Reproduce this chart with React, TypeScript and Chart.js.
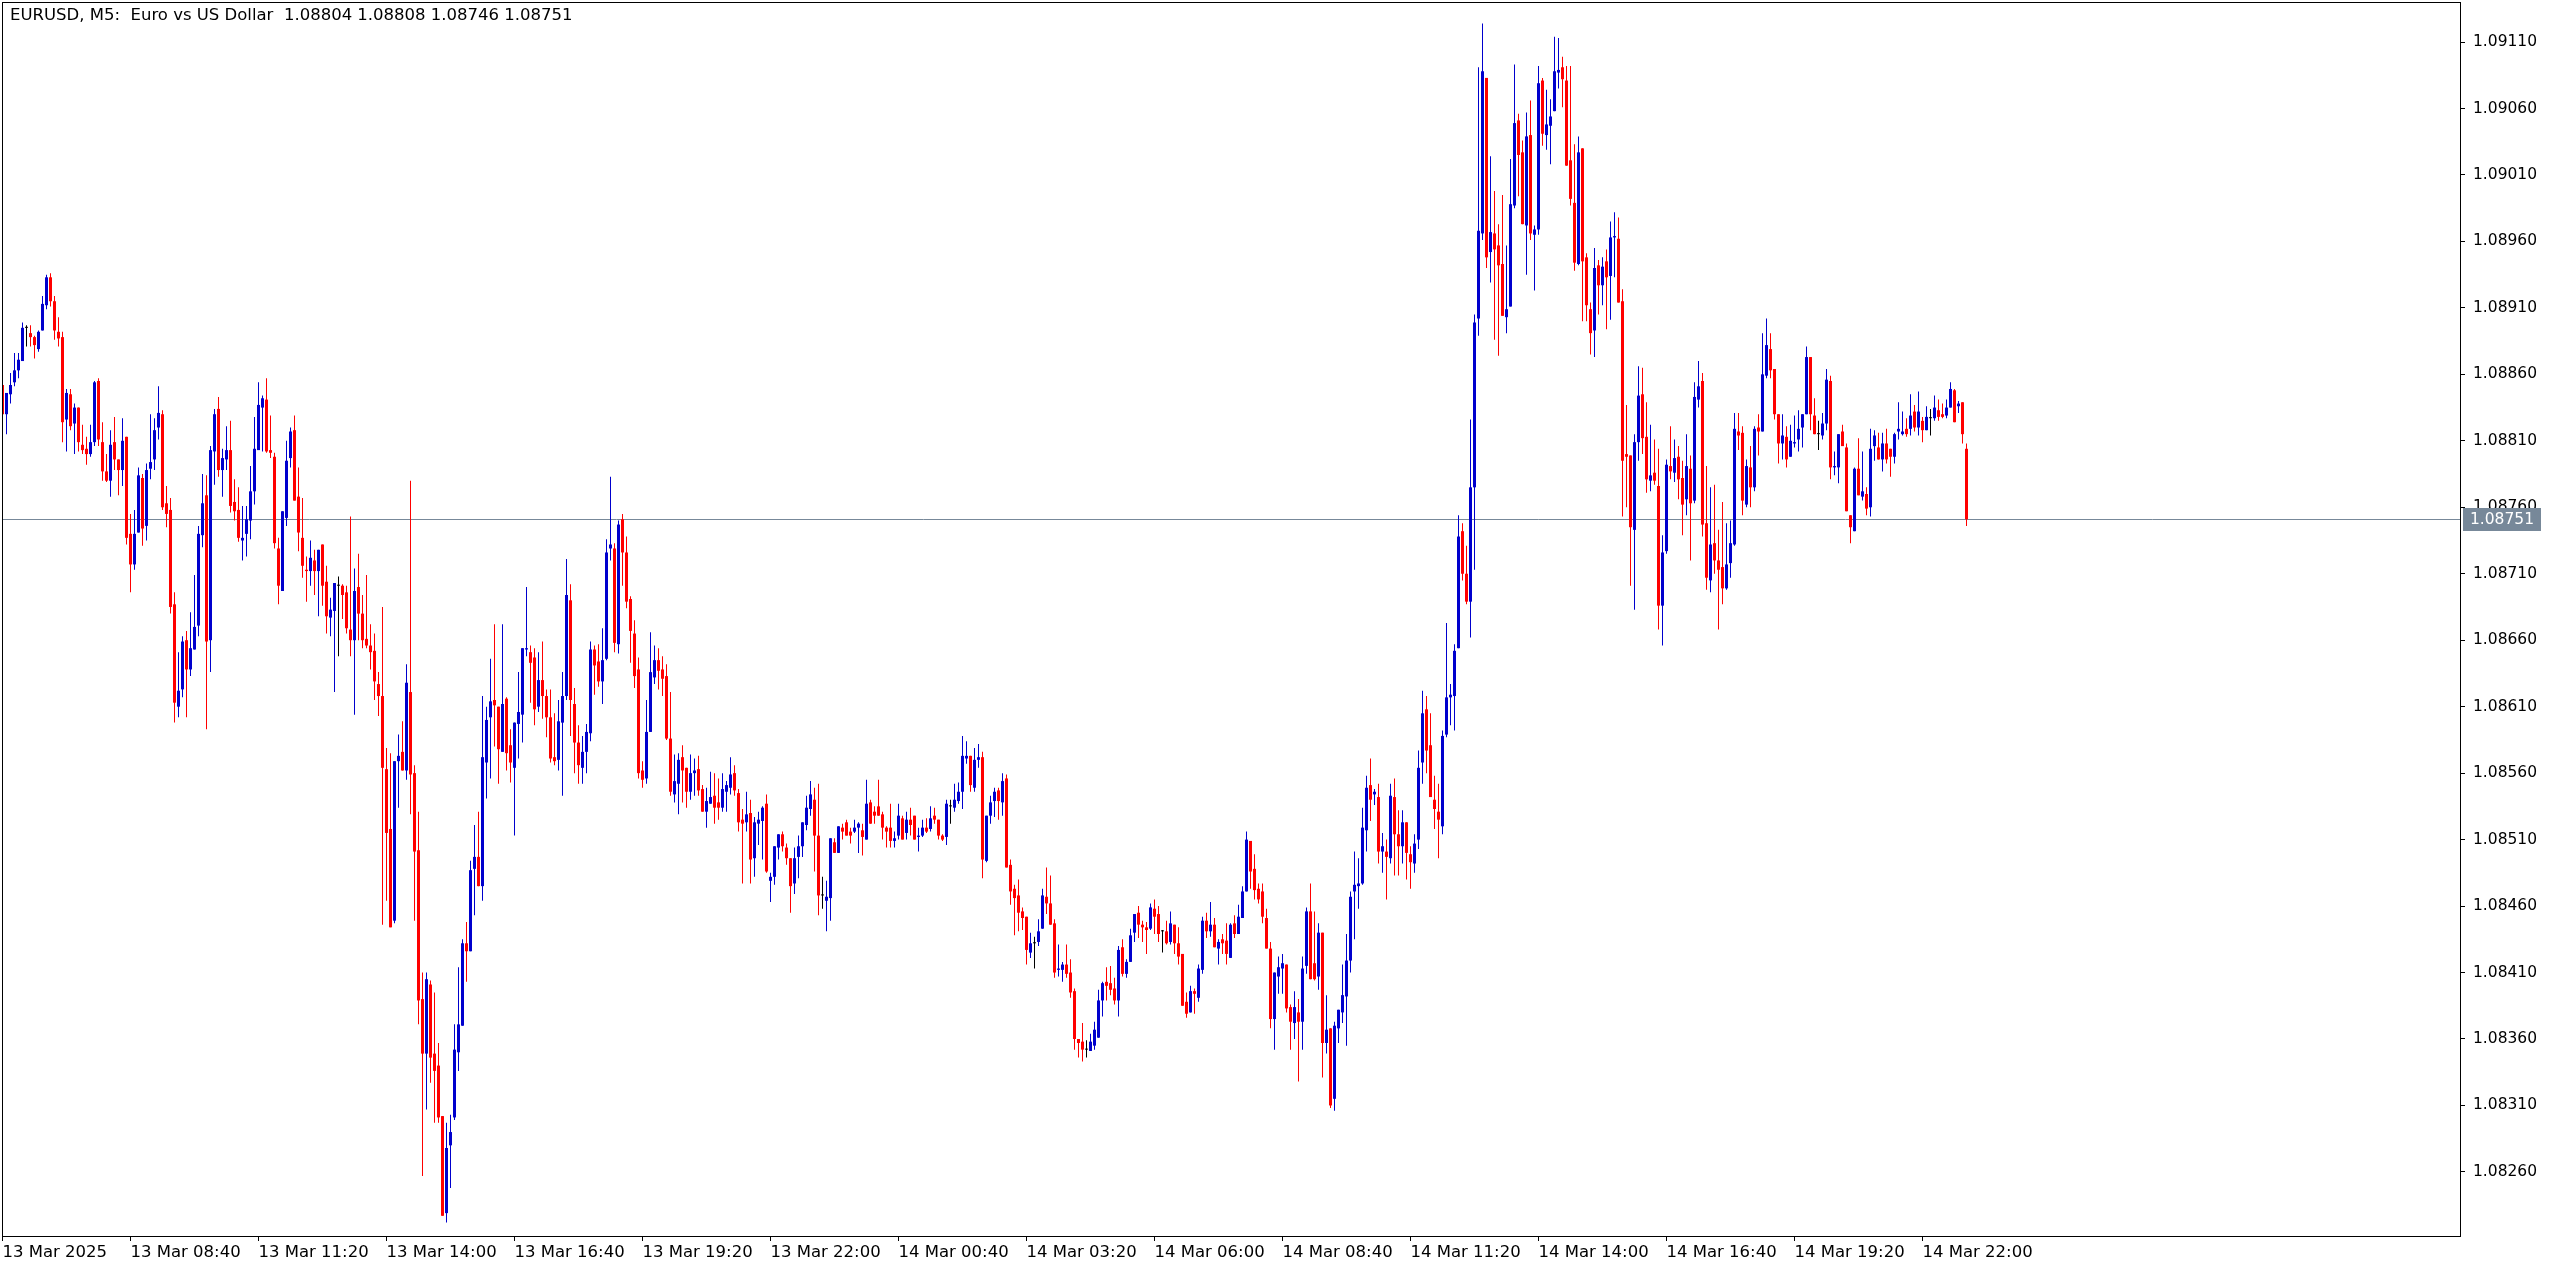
import React, { useEffect, useRef } from "react";
import { Chart, registerables } from "chart.js";

Chart.register(...registerables);

// Prices are stored in points (0.00001) above BASE_PRICE.
const BASE_PRICE = 1.08;
const POINT = 0.00001;

const openPts = [
  852,830,845,854,863,870,895,891,888,879,
  893,912,933,915,892,888,826,845,823,835,
  807,804,800,809,855,809,787,780,809,796,
  788,813,740,717,741,782,746,789,796,820,
  830,763,758,687,610,623,660,638,653,671,
  739,769,660,802,834,788,796,803,764,758,
  735,740,750,772,803,835,841,803,798,729,
  697,752,797,818,768,737,713,712,720,712,
  732,704,677,682,701,701,696,668,660,700,
  680,661,656,652,627,618,563,518,449,569,
  576,562,621,560,502,390,349,401,349,340,
  302,229,280,301,350,370,432,426,488,497,
  475,568,602,615,610,576,616,581,564,597,
  604,653,651,647,610,630,618,602,572,570,
  598,618,690,612,583,564,576,590,653,644,
  629,646,729,729,657,751,726,691,665,638,
  562,556,591,632,645,638,633,586,544,552,
  572,564,546,560,563,548,531,537,543,538,
  534,546,549,560,545,525,523,530,496,522,
  524,537,479,482,504,514,504,496,477,497,
  505,521,533,540,513,468,464,466,508,500,
  519,523,516,516,519,517,510,538,531,535,
  529,519,519,509,513,526,515,525,528,512,
  513,519,518,528,525,513,512,535,534,539,
  546,571,573,549,570,572,494,528,539,547,
  538,556,491,473,468,456,452,425,432,433,
  443,467,462,447,412,412,416,410,396,360,
  358,352,351,355,361,389,403,402,398,389,
  429,409,418,440,455,446,444,443,458,454,
  441,441,433,446,432,424,388,380,396,391,
  412,449,441,446,428,435,434,421,447,439,
  451,471,509,488,473,471,451,428,375,407,
  413,416,384,372,380,373,415,456,417,407,
  440,357,368,315,368,380,392,419,471,475,
  477,517,551,544,542,501,501,496,542,514,
  505,523,499,492,510,568,608,581,540,531,
  520,589,617,618,654,742,710,689,775,902,
  966,1083,952,966,957,943,903,911,987,1051,
  1027,972,1040,965,969,1081,1040,1047,1058,1087,
  1091,1081,1021,989,943,1030,948,909,893,942,
  927,945,934,963,962,915,800,799,743,809,
  845,813,780,786,776,686,727,791,786,798,
  782,766,789,765,841,855,748,705,733,720,
  715,699,718,732,817,816,762,790,775,820,
  817,859,879,864,830,808,813,798,808,811,
  820,830,873,829,815,814,823,855,790,790,
  817,805,754,742,789,768,770,760,806,805,
  796,808,804,798,817,815,819,819,832,820,
  825,818,827,827,833,830,829,835,848,836,
  839,804,
];

const highPts = [
  852,846,861,876,876,899,897,897,889,893,
  919,935,936,919,903,892,849,849,838,835,
  822,813,822,855,857,824,800,818,828,796,
  827,813,755,758,790,785,793,830,827,851,
  833,776,767,696,651,663,667,681,709,746,
  785,784,806,834,843,804,821,825,781,775,
  761,761,791,828,854,844,857,829,801,737,
  757,810,820,829,790,767,723,735,728,728,
  732,716,692,703,708,702,701,753,714,725,
  694,709,672,665,636,685,579,575,569,589,
  599,642,780,566,531,410,410,404,395,357,
  302,297,303,371,414,435,448,494,521,531,
  618,610,646,672,610,672,617,593,598,636,
  654,700,656,654,651,659,623,623,605,615,
  636,721,702,624,596,588,597,659,656,657,
  669,736,783,733,750,755,738,693,675,647,
  569,615,666,656,654,648,642,621,574,575,
  581,564,574,571,573,551,549,561,560,556,
  560,554,572,566,548,533,546,540,527,531,
  535,544,485,505,514,516,507,496,504,513,
  523,543,554,549,552,482,479,511,511,520,
  522,525,519,525,523,522,555,540,535,555,
  531,520,537,516,537,528,531,534,528,519,
  525,526,535,534,525,514,540,540,552,553,
  588,584,573,579,582,576,528,543,549,549,
  560,559,495,476,480,459,452,440,437,450,
  473,489,483,450,431,418,431,420,398,360,
  372,359,364,373,397,403,414,415,406,430,
  435,420,443,454,460,449,448,462,465,460,
  442,449,456,446,444,424,395,400,398,416,
  452,455,463,451,435,439,447,447,453,461,
  475,516,509,499,477,477,458,433,410,422,
  424,416,386,396,390,422,459,477,456,447,
  440,393,368,373,382,416,439,471,501,496,
  534,558,571,548,552,515,510,552,556,532,
  532,523,505,514,577,622,618,605,558,552,
  592,673,627,657,754,748,731,826,905,1091,
  1124,1083,1024,998,973,995,957,1022,1093,1056,
  1036,1057,1066,972,1092,1083,1074,1067,1114,1113,
  1099,1092,1092,1033,1039,1030,951,914,955,946,
  948,954,975,982,978,924,837,799,815,866,
  865,839,822,811,804,739,796,821,811,806,
  795,815,799,854,870,861,791,775,777,743,
  764,748,750,831,831,821,796,806,821,830,
  891,902,891,864,830,830,821,822,829,833,
  830,881,873,842,825,831,864,859,802,815,
  822,808,754,790,812,802,775,819,818,816,
  816,819,804,816,839,832,827,845,837,847,
  828,836,834,844,841,838,841,854,849,840,
  839,808,
];

const lowPts = [
  828,815,838,851,857,870,881,881,872,877,
  893,909,911,886,881,809,802,818,800,802,
  800,792,798,806,806,780,779,768,788,769,
  776,732,696,713,741,731,735,781,788,811,
  758,745,680,598,602,617,602,633,653,663,
  730,593,636,777,783,768,788,756,750,734,
  720,723,736,762,803,802,801,797,729,687,
  697,746,790,765,727,707,689,701,694,678,
  686,665,663,621,648,676,665,648,604,660,
  654,654,638,615,603,446,464,444,447,534,
  562,555,529,449,371,257,307,327,297,297,
  227,222,248,299,336,370,403,426,453,475,
  464,541,556,580,552,576,562,553,513,571,
  583,648,613,596,606,601,587,568,566,562,
  543,615,588,560,552,552,560,584,619,625,
  612,645,720,651,650,701,684,643,624,556,
  549,552,591,627,623,618,585,543,538,529,
  538,534,540,543,543,531,519,537,522,525,
  531,531,544,543,516,477,516,477,482,506,
  495,485,463,476,495,501,491,455,469,481,
  497,517,528,486,453,458,441,449,500,500,
  510,513,507,515,500,498,510,522,522,528,
  510,504,504,504,510,510,510,513,510,501,
  512,515,516,522,510,509,506,522,531,537,
  533,567,546,546,564,481,493,522,527,525,
  528,489,461,438,441,442,416,421,413,430,
  443,454,446,406,407,403,406,391,352,346,
  343,346,351,352,361,377,389,393,386,377,
  407,406,418,433,436,433,424,442,439,433,
  425,431,431,424,416,385,376,380,379,388,
  409,436,437,429,416,424,416,421,436,439,
  451,471,473,465,462,447,428,368,352,394,
  394,380,352,360,328,352,409,405,404,397,
  331,349,308,306,357,372,355,410,435,458,
  476,501,524,536,492,485,465,492,483,483,
  492,480,473,485,503,552,560,542,518,496,
  514,587,596,592,654,705,687,662,713,889,
  961,940,929,886,874,904,891,911,985,994,
  973,935,961,923,965,1032,1029,1018,1058,1075,
  1061,1017,987,938,942,900,900,875,873,905,
  912,894,901,933,914,753,760,701,683,795,
  800,771,772,777,668,656,725,781,779,766,
  739,754,720,763,835,738,698,696,710,668,
  687,698,707,731,803,754,760,760,772,799,
  817,857,857,826,793,796,790,798,805,802,
  805,830,818,815,803,811,818,781,784,778,
  806,757,733,742,769,765,754,753,795,796,
  787,793,783,793,811,814,813,814,817,814,
  809,818,814,825,825,827,827,835,824,831,
  808,746,
];

const closePts = [
  830,846,852,863,871,895,895,888,882,892,
  913,933,915,893,887,824,846,821,835,809,
  803,800,809,854,811,787,780,807,796,788,
  810,737,717,740,784,744,788,794,818,831,
  760,755,685,613,622,659,638,654,670,740,
  763,659,803,830,788,797,803,761,757,737,
  737,751,772,804,837,842,802,801,733,701,
  757,795,817,765,741,716,712,722,712,728,
  701,678,683,703,701,694,669,660,697,680,
  660,656,651,629,618,564,515,444,569,573,
  562,628,559,501,389,349,405,346,336,301,
  227,278,290,352,371,432,426,487,497,475,
  572,600,614,611,578,612,575,568,598,606,
  654,654,643,608,630,618,602,571,569,599,
  618,694,615,583,566,576,591,653,641,629,
  645,726,732,658,747,726,689,667,633,560,
  555,591,636,645,637,631,586,546,554,570,
  562,546,560,562,547,531,539,542,534,534,
  548,551,559,547,523,522,529,495,523,525,
  534,486,482,505,514,505,496,475,496,505,
  523,534,544,513,468,468,467,511,500,520,
  516,513,513,519,522,512,537,522,528,528,
  519,516,509,511,528,510,525,521,510,513,
  519,516,526,525,513,510,537,535,540,546,
  573,573,551,570,572,495,528,538,546,539,
  554,489,471,466,455,451,427,432,432,441,
  468,462,446,410,413,416,409,395,360,357,
  352,352,358,367,389,402,400,397,389,427,
  409,418,438,454,446,444,442,459,452,439,
  441,432,447,432,422,385,379,396,394,413,
  449,441,446,429,433,432,424,446,439,452,
  471,510,486,472,465,452,428,375,410,414,
  417,383,373,384,373,413,456,405,405,440,
  357,367,310,370,382,393,419,467,476,477,
  519,549,540,546,501,505,497,543,514,505,
  523,500,493,507,564,605,577,542,533,525,
  588,617,619,652,738,710,689,775,899,968,
  1088,948,967,954,942,904,909,988,1049,1025,
  973,1039,966,969,1079,1041,1048,1054,1088,1089,
  1082,1017,992,944,1027,945,912,891,940,927,
  941,933,963,964,914,795,798,745,809,844,
  812,781,784,780,686,726,792,787,797,781,
  762,791,763,843,851,747,707,732,720,713,
  699,717,733,819,814,765,791,775,819,817,
  860,882,863,830,808,814,796,810,809,819,
  830,873,830,815,815,823,856,790,791,815,
  806,757,745,789,769,772,759,804,814,796,
  808,796,798,815,819,817,815,829,820,832,
  818,828,827,835,828,828,835,849,824,838,
  815,751,
];

const timeLabels = [
  "13 Mar 2025", "13 Mar 08:40", "13 Mar 11:20", "13 Mar 14:00",
  "13 Mar 16:40", "13 Mar 19:20", "13 Mar 22:00", "14 Mar 00:40",
  "14 Mar 03:20", "14 Mar 06:00", "14 Mar 08:40", "14 Mar 11:20",
  "14 Mar 14:00", "14 Mar 16:40", "14 Mar 19:20", "14 Mar 22:00",
];
const BARS_PER_LABEL = 32;

const priceTicks = [
  1.0826, 1.0831, 1.0836, 1.0841, 1.0846, 1.0851, 1.0856, 1.0861, 1.0866,
  1.0871, 1.0876, 1.0881, 1.0886, 1.0891, 1.0896, 1.0901, 1.0906, 1.0911,
];
const PRICE_MIN = 1.082118;
const PRICE_MAX = 1.091401;

const titleText = "EURUSD, M5:  Euro vs US Dollar  1.08804 1.08808 1.08746 1.08751";

const BULL = "#0000CD";
const BEAR = "#FF0000";
const DOJI = "#000000";
const BID = "#778899";
const FONT = "'DejaVu Sans', sans-serif";

const toPrice = (p: number) => +(BASE_PRICE + p * POINT).toFixed(5);

export default function App() {
  const ref = useRef<HTMLCanvasElement>(null);

  useEffect(() => {
    document.body.style.margin = "0";
    const canvas = ref.current;
    if (!canvas) return;
    const n = Math.min(openPts.length, highPts.length, lowPts.length, closePts.length);
    const idx = Array.from({ length: n }, (_, i) => i);
    const colors = idx.map((i) =>
      closePts[i] > openPts[i] ? BULL : closePts[i] < openPts[i] ? BEAR : DOJI
    );
    const bodies = idx.map((i) => ({ x: i, y: [toPrice(openPts[i]), toPrice(closePts[i])] }));
    const wicks = idx.map((i) => ({ x: i, y: [toPrice(lowPts[i]), toPrice(highPts[i])] }));
    const lastClose = toPrice(closePts[n - 1]);

    const overlay = {
      id: "mt5overlay",
      beforeDatasetsDraw(chart: any) {
        const { ctx, chartArea: a, scales } = chart;
        const y = Math.round(scales.y.getPixelForValue(lastClose)) + 0.5;
        ctx.save();
        ctx.strokeStyle = BID;
        ctx.lineWidth = 1;
        ctx.beginPath();
        ctx.moveTo(a.left, y);
        ctx.lineTo(a.right, y);
        ctx.stroke();
        ctx.restore();
      },
      afterDraw(chart: any) {
        const { ctx, chartArea: a, scales } = chart;
        ctx.save();
        ctx.strokeStyle = "#000";
        ctx.lineWidth = 1;
        ctx.strokeRect(a.left + 0.5, a.top + 0.5, a.right - a.left, a.bottom - a.top);
        ctx.fillStyle = "#000";
        ctx.font = `16.5px ${FONT}`;
        ctx.textBaseline = "middle";
        ctx.textAlign = "left";
        ctx.fillText(titleText, a.left + 8, a.top + 14);
        const y = Math.round(scales.y.getPixelForValue(lastClose));
        const bx = a.right + 3;
        const bw = 78;
        const bh = 23;
        ctx.fillStyle = BID;
        ctx.fillRect(bx, y - 11, bw, bh);
        ctx.fillStyle = "#fff";
        ctx.font = `15.5px ${FONT}`;
        ctx.textAlign = "center";
        ctx.fillText(lastClose.toFixed(5), bx + bw / 2, y + 1);
        ctx.restore();
      },
    };

    const xMin = -0.125;
    const xMax = xMin + 2458 / 4;

    const chart = new Chart(canvas, {
      type: "bar",
      data: {
        datasets: [
          {
            label: "body",
            data: bodies as any,
            backgroundColor: colors,
            barThickness: 3,
            minBarLength: 1,
            grouped: false,
            borderWidth: 0,
            inflateAmount: 0,
          } as any,
          {
            label: "wick",
            data: wicks as any,
            backgroundColor: colors,
            barThickness: 1,
            minBarLength: 1,
            grouped: false,
            borderWidth: 0,
            inflateAmount: 0,
          } as any,
        ],
      },
      options: {
        responsive: false,
        animation: false,
        devicePixelRatio: 1,
        events: [],
        layout: { padding: { left: 2, top: 2, right: 0, bottom: 0 } },
        plugins: { legend: { display: false }, tooltip: { enabled: false }, title: { display: false } },
        scales: {
          x: {
            type: "linear",
            position: "bottom",
            min: xMin,
            max: xMax,
            offset: false,
            afterBuildTicks: (scale: any) => {
              scale.ticks = timeLabels.map((_, k) => ({ value: k * BARS_PER_LABEL }));
            },
            afterFit: (scale: any) => {
              scale.height = 34;
              scale.paddingLeft = 0;
              scale.paddingRight = 0;
            },
            ticks: {
              autoSkip: false,
              maxRotation: 0,
              minRotation: 0,
              align: "start",
              padding: 2,
              color: "#000",
              font: { family: FONT, size: 16.5 },
              callback: (_v: any, index: number) => timeLabels[index] ?? "",
            },
            grid: {
              display: true,
              drawOnChartArea: false,
              drawTicks: true,
              tickLength: 5,
              color: "#000",
              lineWidth: 1,
              offset: false,
            },
            border: { display: true, color: "#000", width: 1 },
          } as any,
          y: {
            type: "linear",
            position: "right",
            min: PRICE_MIN,
            max: PRICE_MAX,
            beginAtZero: false,
            afterBuildTicks: (scale: any) => {
              scale.ticks = priceTicks.map((v) => ({ value: v }));
            },
            afterFit: (scale: any) => {
              scale.width = 96;
              scale.paddingTop = 0;
              scale.paddingBottom = 0;
            },
            ticks: {
              autoSkip: false,
              padding: 8,
              color: "#000",
              font: { family: FONT, size: 15.5 },
              callback: (v: any) => Number(v).toFixed(5),
            },
            grid: {
              display: true,
              drawOnChartArea: false,
              drawTicks: true,
              tickLength: 5,
              color: "#000",
              lineWidth: 1,
            },
            border: { display: true, color: "#000", width: 1 },
          } as any,
        },
      },
      plugins: [overlay],
    });

    return () => chart.destroy();
  }, []);

  return (
    <div style={{ position: "fixed", left: 0, top: 0, width: 2556, height: 1270, background: "#fff" }}>
      <canvas ref={ref} width={2556} height={1270} style={{ display: "block", width: 2556, height: 1270 }} />
    </div>
  );
}
